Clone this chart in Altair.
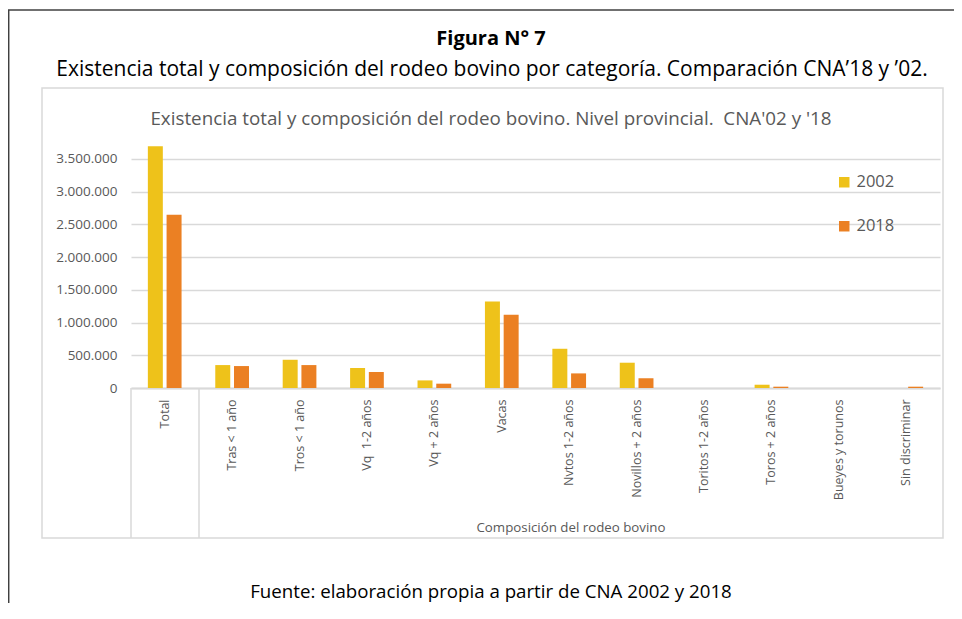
import altair as alt
import pandas as pd

categories = ["Total", "Tras < 1 año", "Tros < 1 año", "Vq\u00a0 1-2 años", "Vq + 2 años", "Vacas",
              "Nvtos 1-2 años", "Novillos + 2 años", "Toritos 1-2 años", "Toros + 2 años",
              "Bueyes y torunos", "Sin discriminar"]
years = ["2002", "2018"]
values_2002 = [3690000, 350000, 431000, 305000, 116000, 1320000, 599000, 386000, 0, 50000, 0, 0]
values_2018 = [2646000, 335000, 350000, 244000, 66000, 1117000, 223000, 147000, 0, 20000, 0, 20000]
y_ticks = [0, 500000, 1000000, 1500000, 2000000, 2500000, 3000000, 3500000]

rows = []
for c, a, b in zip(categories, values_2002, values_2018):
    rows.append({"cat": c, "year": "2002", "value": a})
    rows.append({"cat": c, "year": "2018", "value": b})
df = pd.DataFrame(rows)

W, H = 809, 262
FONT = "Open Sans"
GREY = "#595959"

bars = alt.Chart(df).mark_bar().encode(
    x=alt.X("cat:N", sort=categories,
            scale=alt.Scale(paddingInner=0.5, paddingOuter=0.25),
            axis=alt.Axis(title=None, labelAngle=-90, labelFont="Open Sans", labelFontSize=12.5,
                          labelColor=GREY, labelPadding=11, ticks=False, domain=True,
                          domainColor="#d9d9d9", domainWidth=2, labelLimit=200)),
    xOffset=alt.XOffset("year:N", scale=alt.Scale(paddingInner=0.2, paddingOuter=0)),
    y=alt.Y("value:Q", scale=alt.Scale(domain=[0, 4000000], nice=False),
            axis=alt.Axis(title=None, values=y_ticks, labelFont="Open Sans", labelFontSize=13.5,
                          labelColor=GREY, labelPadding=14, ticks=False, domain=False,
                          gridColor="#d9d9d9", gridWidth=1.5,
                          labelExpr="replace(format(datum.value, ',.0f'), /,/g, '.')")),
    color=alt.Color("year:N", scale=alt.Scale(domain=years, range=["#EEC21A", "#EB8023"]),
                    legend=alt.Legend(title=None, orient="none", legendX=705, legendY=48,
                                      symbolType="square", symbolSize=110, symbolStrokeWidth=0,
                                      labelFont="Open Sans", labelFontSize=16.5, labelColor=GREY,
                                      rowPadding=27, labelOffset=4)),
)

dummy = pd.DataFrame({"d": [0]})

def text_layer(txt, x, y, size, color="#000000", weight="normal", font=FONT):
    return alt.Chart(pd.DataFrame({"t": [txt]})).mark_text(
        font=font, fontSize=size, color=color, fontWeight=weight, align="center", baseline="middle"
    ).encode(text="t:N", x=alt.value(x), y=alt.value(y))

box = alt.Chart(dummy).mark_rect(filled=False, stroke="#d9d9d9", strokeWidth=1.5).encode(
    x=alt.value(-89), x2=alt.value(812), y=alt.value(-38), y2=alt.value(412))

sep1 = alt.Chart(dummy).mark_rule(color="#d9d9d9", strokeWidth=1.5).encode(
    x=alt.value(0), y=alt.value(H), y2=alt.value(412))
sep2 = alt.Chart(dummy).mark_rule(color="#d9d9d9", strokeWidth=1.5).encode(
    x=alt.value(68), y=alt.value(H), y2=alt.value(412))

frame_top = alt.Chart(dummy).mark_rule(color="#404040", strokeWidth=1.5).encode(
    x=alt.value(-123), x2=alt.value(830), y=alt.value(-116))
frame_left = alt.Chart(dummy).mark_rule(color="#404040", strokeWidth=1.5).encode(
    x=alt.value(-122.3), y=alt.value(-116), y2=alt.value(480))

t_fig = text_layer("Figura N° 7", 360, -87, 20, weight="bold")
t_sub = text_layer("Existencia total y composición del rodeo bovino por categoría. Comparación CNA’18 y ’02.", 361, -56, 21)
t_inner = text_layer("Existencia total y composición del rodeo bovino. Nivel provincial.\u00a0 CNA'02 y '18", 360, -7, 18.8, color=GREY)
t_group = text_layer("Composición del rodeo bovino", 440, 402, 13.3, color=GREY)
t_foot = text_layer("Fuente: elaboración propia a partir de CNA 2002 y 2018", 360, 466, 18.7)

chart = alt.layer(box, bars, sep1, sep2, frame_top, frame_left, t_fig, t_sub, t_inner, t_group, t_foot).properties(
    width=W, height=H,
    background="white",
    autosize=alt.AutoSizeParams(type="none"),
    padding={"left": 123, "top": 118, "right": 14, "bottom": 215},
).configure_view(stroke=None)

chart.save("out.html", embed_options={"renderer": "svg", "actions": False})
